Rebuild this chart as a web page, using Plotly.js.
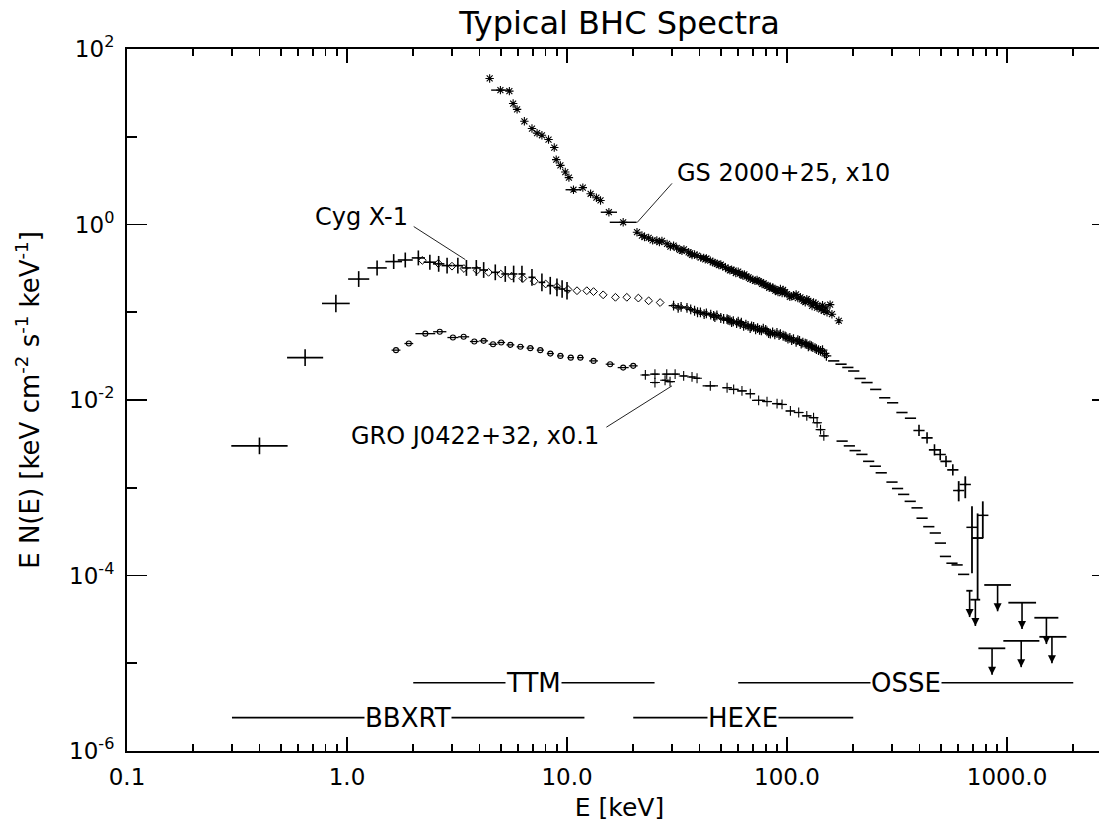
<!DOCTYPE html>
<html>
<head>
<meta charset="utf-8">
<script src="https://cdn.plot.ly/plotly-3.0.1.min.js"></script>
<style>html,body{margin:0;padding:0;overflow:hidden;background:#fff}</style>
</head>
<body>
<div id="chart" style="width:1120px;height:823px"></div>
<script>
// ---------------- DATA ----------------
// Cyg X-1 : BBXRT (large crosses)
const cygBbxrtE  = [0.40, 0.645, 0.89, 1.13, 1.37, 1.63, 1.84, 2.11, 2.38, 2.61, 2.85, 3.19, 3.49, 3.87, 4.18, 4.72, 5.24, 5.72, 6.24, 6.93, 7.69, 8.39, 9.0, 9.5, 10.0];
const cygBbxrtF  = [0.0030, 0.0304, 0.126, 0.239, 0.32, 0.378, 0.394, 0.416, 0.372, 0.356, 0.34, 0.34, 0.32, 0.32, 0.303, 0.285, 0.273, 0.273, 0.273, 0.25, 0.219, 0.201, 0.192, 0.184, 0.176];
const cygBbxrtXd = [0.128, 0.082, 0.063, 0.048, 0.044, 0.038, 0.034, 0.030, 0.028, 0.026, 0.025, 0.023, 0.022, 0.021, 0.020, 0.019, 0.018, 0.017, 0.016, 0.016, 0.015, 0.015, 0.014, 0.014, 0.013];
const cygBbxrtYd = [0.095, 0.095, 0.10, 0.09, 0.085, 0.085, 0.085, 0.085, 0.085, 0.09, 0.09, 0.09, 0.09, 0.09, 0.09, 0.09, 0.09, 0.095, 0.095, 0.095, 0.10, 0.10, 0.10, 0.10, 0.10];
// Cyg X-1 : TTM (diamonds)
const cygTtmE = [2.2, 2.6, 3.0, 3.4, 3.9, 4.4, 5.0, 5.6, 6.3, 7.1, 8.0, 9.0, 10.1, 11.1, 12.3, 13.2, 14.6, 16.6, 18.7, 21.1, 23.5, 26.5];
const cygTtmF = [0.39, 0.36, 0.335, 0.315, 0.30, 0.285, 0.272, 0.258, 0.242, 0.226, 0.21, 0.196, 0.182, 0.176, 0.176, 0.172, 0.158, 0.148, 0.148, 0.145, 0.135, 0.129];
// Cyg X-1 : HEXE
const cygHexeE = [30.5, 33, 35.1, 38, 40.4, 43, 46.4, 48, 50, 53.4, 55, 57, 61.3, 62, 65, 68, 70.5, 75, 78, 81.1, 84, 86, 90, 93.3, 96, 99, 103, 107, 110, 114, 118, 123, 127, 131, 136, 142, 145, 151,
                  32, 36.5, 39.2, 42, 45, 47, 51.5, 54, 56, 59, 60, 63.5, 66.5, 69, 72, 73.5, 76.5, 80, 82.5, 88, 92, 98, 101, 105, 112, 116, 121, 125, 129, 134, 139, 148];
const cygHexeF = [0.119, 0.115, 0.112, 0.104, 0.0995, 0.097, 0.091, 0.092, 0.086, 0.0835, 0.081, 0.079, 0.0732, 0.076, 0.072, 0.066, 0.0683, 0.063, 0.065, 0.0604, 0.057, 0.059, 0.058, 0.0563, 0.054, 0.052, 0.051, 0.0494, 0.046, 0.047, 0.045, 0.0433, 0.042, 0.040, 0.038, 0.0363, 0.037, 0.0318,
                  0.112, 0.108, 0.100, 0.095, 0.094, 0.088, 0.084, 0.082, 0.077, 0.075, 0.078, 0.070, 0.070, 0.069, 0.064, 0.066, 0.062, 0.063, 0.058, 0.056, 0.055, 0.053, 0.050, 0.048, 0.048, 0.044, 0.044, 0.041, 0.041, 0.039, 0.037, 0.034];
// Cyg X-1 : OSSE
const cygOsseE = [163, 176, 189, 201, 215, 231, 253, 278, 302, 333, 364, 398, 433, 468, 497, 528, 567];
const cygOsseF = [0.0279, 0.0256, 0.0235, 0.0214, 0.0176, 0.0158, 0.0132, 0.0106, 0.0093, 0.0072, 0.0062, 0.0045, 0.0037, 0.0027, 0.00239, 0.0020, 0.0016];
// Cyg X-1 : OSSE points with large errors
const cygBigE   = [603, 646, 693, 735, 776];
const cygBigF   = [0.00093, 0.00109, 3.54e-4, 2.67e-4, 4.85e-4];
const cygBigFhi = [0.00119, 0.00135, 6.15e-4, 5.1e-4, 7.0e-4];
const cygBigFlo = [0.00070, 0.00076, 1.06e-4, 5.3e-5, 2.67e-4];
const cygBigXd  = [0.006, 0.006, 0.004, 0.025, 0.004];

// GS 2000+25 (x10)
const gsTtmE  = [4.45, 4.98, 5.47, 5.69, 5.93, 6.40, 6.93, 7.31, 7.69, 8.24, 8.75, 8.93, 9.33, 9.82, 10.2, 10.7, 11.8, 12.8, 13.6, 14.2, 15.5, 18.0];
const gsTtmF  = [46.2, 34.0, 33.1, 23.9, 20.5, 15.0, 12.4, 11.0, 10.4, 9.29, 7.53, 5.49, 4.72, 3.96, 3.42, 2.49, 2.63, 2.24, 2.02, 1.88, 1.38, 1.06];
const gsTtmXd = [0, 0.042, 0, 0, 0, 0, 0, 0, 0, 0, 0, 0, 0, 0, 0, 0.036, 0, 0, 0, 0, 0.037, 0.061];
const gsHexeE = [20.8, 21.9, 23.5, 24.5, 25.6, 27.0, 28.5, 29.5, 30.5, 32.7, 34.0, 35.7, 37.0, 39.0, 41.8, 43.0, 44.8, 46.0, 48.1, 50.0, 52.5, 55.0, 57.2, 60.0, 62.4, 64.0, 66.9, 70.0, 73.1, 76.0, 78.3, 81.0, 84.0, 86.0, 88.5, 91.0, 93.3, 96.0, 100, 103, 107, 110, 115, 119, 123, 127, 132, 137, 140, 145, 147, 152, 157, 172,
                 22.5, 26.3, 31.5, 33.3, 36.3, 38.0, 40.5, 42.5, 47.0, 49.0, 51.0, 54.0, 56.0, 58.5, 61.0, 63.0, 65.5, 68.0, 71.5, 74.5, 77.0, 80.0, 83.0, 87.0, 90.0, 95.0, 98.0, 105, 112, 117, 121, 125, 130, 135, 143, 150, 160];
const gsHexeF = [0.817, 0.748, 0.704, 0.66, 0.656, 0.65, 0.601, 0.56, 0.575, 0.514, 0.52, 0.482, 0.45, 0.442, 0.416, 0.41, 0.388, 0.37, 0.356, 0.35, 0.325, 0.30, 0.298, 0.29, 0.268, 0.27, 0.25, 0.235, 0.233, 0.22, 0.213, 0.20, 0.196, 0.19, 0.176, 0.17, 0.184, 0.18, 0.161, 0.15, 0.155, 0.16, 0.148, 0.135, 0.141, 0.13, 0.129, 0.113, 0.115, 0.12, 0.104, 0.10, 0.122, 0.080,
                 0.72, 0.63, 0.54, 0.50, 0.47, 0.455, 0.42, 0.40, 0.365, 0.345, 0.335, 0.31, 0.305, 0.28, 0.275, 0.262, 0.255, 0.24, 0.228, 0.225, 0.21, 0.205, 0.19, 0.185, 0.178, 0.165, 0.17, 0.152, 0.145, 0.14, 0.13, 0.135, 0.118, 0.125, 0.108, 0.112, 0.095];

// GRO J0422+32 (x0.1)
const groTtmE  = [1.67, 1.91, 2.27, 2.64, 3.03, 3.39, 3.79, 4.18, 4.61, 5.02, 5.53, 6.14, 6.81, 7.56, 8.4, 9.33, 10.4, 11.5, 13.2, 15.7, 18.0, 20.0];
const groTtmF  = [0.037, 0.044, 0.057, 0.060, 0.0515, 0.0525, 0.0464, 0.0472, 0.0432, 0.0452, 0.0425, 0.0404, 0.039, 0.037, 0.0338, 0.0318, 0.0304, 0.0304, 0.0279, 0.0256, 0.0234, 0.0245];
const groTtmXd = [0.02, 0.02, 0.045, 0.03, 0.025, 0.025, 0.02, 0.02, 0.02, 0.018, 0.018, 0.017, 0.017, 0.016, 0.016, 0.015, 0.015, 0.015, 0.02, 0.02, 0.025, 0.02];
const groHexeE  = [22.7, 25.1, 25.1, 27.9, 28.4, 29.4, 31.0, 33.9, 37.0, 39.0, 44.8, 53.4, 57.2, 62.4, 68.1, 74.3, 81.1, 90.1, 94.9, 103.6, 113, 123, 132, 137, 142, 147];
const groHexeF  = [0.0193, 0.0197, 0.0158, 0.0168, 0.0197, 0.0162, 0.0197, 0.0188, 0.0183, 0.0177, 0.0145, 0.0138, 0.0132, 0.0127, 0.0118, 0.0099, 0.0096, 0.0091, 0.0089, 0.0075, 0.0072, 0.0066, 0.0063, 0.0055, 0.0046, 0.0039];
const groHexeXd = [0.015, 0.016, 0.014, 0.015, 0.016, 0.014, 0.015, 0.016, 0.015, 0.014, 0.035, 0.02, 0.022, 0.02, 0.021, 0.03, 0.02, 0.022, 0.02, 0.021, 0.02, 0.019, 0.016, 0.015, 0.014, 0.015];
const groOsseE = [178, 192, 204, 219, 235, 252, 268, 300, 318, 339, 363, 390, 411, 441, 472, 498, 525, 562, 593, 635];
const groOsseF = [0.0034, 0.0030, 0.00265, 0.0024, 0.0020, 0.00176, 0.00148, 0.00116, 0.00098, 0.00084, 0.0007, 0.00059, 0.00045, 0.00036, 0.000305, 0.000234, 0.000165, 0.000138, 0.000132, 0.000103];

// Upper limits (OSSE): top of each limit and its energy bin
const ulE   = [676, 718, 906, 1170, 1510, 855, 1160, 1600];
const ulF   = [6.7e-5, 5.3e-5, 7.8e-5, 4.9e-5, 3.3e-5, 1.48e-5, 1.8e-5, 2.0e-5];
const ulElo = [653, 681, 788, 1014, 1331, 741, 962, 1403];
const ulEhi = [697, 755, 1042, 1355, 1711, 982, 1403, 1862];

// Instrument energy ranges
const instName = ['BBXRT', 'TTM', 'HEXE', 'OSSE'];
const instLo   = [0.3, 2, 20, 60];
const instHi   = [12, 25, 200, 2000];
const instF    = [2.4e-6, 6e-6, 2.4e-6, 6e-6];

// Source labels and pointer lines
const srcLabel = ['GS 2000+25, x10', 'Cyg X-1', 'GRO J0422+32, x0.1'];
const ptrE0 = [20.8, 2.01, 15.1];
const ptrF0 = [1.05, 0.948, 0.0049];
const ptrE1 = [30.0, 3.45, 30.0];
const ptrF1 = [2.94, 0.398, 0.0145];

// Axis ticks
const xTickVals = [0.1, 1, 10, 100, 1000];
const xTickText = ['0.1', '1.0', '10.0', '100.0', '1000.0'];
const yTickVals = [1e-6, 1e-4, 1e-2, 1, 100];
const yTickText = ['10<sup>-6</sup>', '10<sup>-4</sup>', '10<sup>-2</sup>', '10<sup>0</sup>', '10<sup>2</sup>'];
const yMinorVals = [1e-5, 1e-3, 1e-1, 10];

// ---------------- BUILD ----------------
const K = '#000';
const FONT = 'DejaVu Sans, Arial, sans-serif';
const UL_DEX = 0.3; // length of upper-limit arrows (decades)
function dex(v, d) {
  return {
    array: v.map((e, i) => e * (Math.pow(10, d[i]) - 1)),
    arrayminus: v.map((e, i) => e * (1 - Math.pow(10, -d[i])))
  };
}
function ebar(o, th) {
  return {type: 'data', symmetric: false, array: o.array, arrayminus: o.arrayminus, color: K, thickness: th, width: 0};
}
const xMinor = [];
for (let d = -1; d <= 3; d++) for (let k = 2; k <= 9; k++) { const v = k * Math.pow(10, d); if (v < 3000) xMinor.push(v); }

const traces = [];
// instrument ranges
const ix = [], iy = [];
instName.forEach((n, i) => { ix.push(instLo[i], instHi[i], null); iy.push(instF[i], instF[i], null); });
traces.push({x: ix, y: iy, mode: 'lines', line: {color: K, width: 1.6}, connectgaps: false});
// pointer lines
const px = [], py = [];
srcLabel.forEach((s, i) => { px.push(ptrE0[i], ptrE1[i], null); py.push(ptrF0[i], ptrF1[i], null); });
traces.push({x: px, y: py, mode: 'lines', line: {color: '#222', width: 1}, connectgaps: false});

// Cyg X-1 BBXRT crosses
traces.push({x: cygBbxrtE, y: cygBbxrtF, mode: 'markers', marker: {size: 2, color: K},
  error_x: ebar(dex(cygBbxrtE, cygBbxrtXd), 1.6), error_y: ebar(dex(cygBbxrtF, cygBbxrtYd), 1.6)});
// Cyg X-1 TTM
traces.push({x: cygTtmE, y: cygTtmF, mode: 'markers', marker: {symbol: 'diamond-open', size: 6, color: K, line: {width: 1, color: K}}});
// Cyg X-1 HEXE
traces.push({x: cygHexeE, y: cygHexeF, mode: 'markers', marker: {symbol: 'cross-thin-open', size: 7, color: K, line: {width: 1.2, color: K}}});
traces.push({x: cygHexeE, y: cygHexeF, mode: 'markers', marker: {symbol: 'diamond-open', size: 4, color: K, line: {width: 1, color: K}}});
// Cyg X-1 OSSE
traces.push({x: cygOsseE, y: cygOsseF, mode: 'markers',
  marker: {symbol: cygOsseE.map(e => e >= 390 ? 'cross-thin-open' : 'line-ew'), size: 8, color: K, line: {width: 1.6, color: K}}});
traces.push({x: cygBigE, y: cygBigF, mode: 'markers', marker: {symbol: 'line-ew', size: 8, color: K, line: {width: 1.5, color: K}},
  error_x: ebar(dex(cygBigE, cygBigXd), 1.6),
  error_y: {type: 'data', symmetric: false, array: cygBigF.map((f, i) => cygBigFhi[i] - f), arrayminus: cygBigF.map((f, i) => f - cygBigFlo[i]), color: K, thickness: 1.8, width: 0}});

// GS 2000+25
traces.push({x: gsTtmE, y: gsTtmF, mode: 'markers', marker: {symbol: 'asterisk-open', size: 7, color: K, line: {width: 1.1, color: K}},
  error_x: ebar(dex(gsTtmE, gsTtmXd), 1.4)});
traces.push({x: gsHexeE, y: gsHexeF, mode: 'markers', marker: {symbol: 'asterisk-open', size: 7, color: K, line: {width: 1.1, color: K}}});

// GRO J0422+32
traces.push({x: groTtmE, y: groTtmF, mode: 'markers', marker: {symbol: 'circle-open', size: 5, color: K, line: {width: 1.1, color: K}},
  error_x: ebar(dex(groTtmE, groTtmXd), 1.3)});
traces.push({x: groHexeE, y: groHexeF, mode: 'markers', marker: {symbol: 'cross-thin-open', size: 7, color: K, line: {width: 1.1, color: K}},
  error_x: ebar(dex(groHexeE, groHexeXd), 1.3)});
traces.push({x: groOsseE, y: groOsseF, mode: 'markers', marker: {symbol: 'line-ew', size: 8, color: K, line: {width: 1.6, color: K}}});

// Upper limits: bin bar at the top, shaft and arrowhead below
const ulTip = ulF.map(f => f * Math.pow(10, -UL_DEX));
traces.push({x: ulE, y: ulF, mode: 'markers', marker: {size: 1, color: 'rgba(0,0,0,0)'},
  error_x: {type: 'data', symmetric: false, array: ulE.map((e, i) => ulEhi[i] - e), arrayminus: ulE.map((e, i) => e - ulElo[i]), color: K, thickness: 1.8, width: 0}});
traces.push({x: ulE, y: ulTip, mode: 'markers', marker: {symbol: 'arrow-down', size: 8, color: K, line: {width: 0}},
  error_y: {type: 'data', symmetric: false, array: ulTip.map((t, i) => ulF[i] - t), arrayminus: ulTip.map(() => 0), color: K, thickness: 1.6, width: 0}});

const L = Math.log10;
const annotations = [];
// instrument labels
instName.forEach((n, i) => {
  annotations.push({x: L(Math.sqrt(instLo[i] * instHi[i])), y: L(instF[i]), xref: 'x', yref: 'y', text: n, showarrow: false,
    bgcolor: '#fff', borderpad: 0, font: {family: FONT, size: 26, color: K}, xanchor: 'center', yanchor: 'middle'});
});
// source labels
annotations.push({x: L(ptrE1[0]), y: L(ptrF1[0]), xref: 'x', yref: 'y', text: srcLabel[0], showarrow: false,
  xanchor: 'left', yanchor: 'middle', xshift: 3, yshift: 10, font: {family: FONT, size: 24, color: K}});
annotations.push({x: L(ptrE0[1]), y: L(ptrF0[1]), xref: 'x', yref: 'y', text: srcLabel[1], showarrow: false,
  xanchor: 'right', yanchor: 'middle', xshift: -4, yshift: 10, font: {family: FONT, size: 24, color: K}});
annotations.push({x: L(ptrE0[2]), y: L(ptrF0[2]), xref: 'x', yref: 'y', text: srcLabel[2], showarrow: false,
  xanchor: 'right', yanchor: 'middle', xshift: -5, yshift: -9, font: {family: FONT, size: 24, color: K}});

const axisCommon = {
  type: 'log', showline: true, linewidth: 2, linecolor: K, mirror: 'ticks', showgrid: false, zeroline: false,
  ticks: 'inside', tickcolor: K, tickwidth: 1.6, tickmode: 'array', automargin: false,
  tickfont: {family: FONT, size: 23, color: K}
};

const layout = {
  width: 1120, height: 823,
  margin: {l: 127, r: 8, t: 49, b: 72, pad: 0},
  paper_bgcolor: '#fff', plot_bgcolor: '#fff',
  showlegend: false, hovermode: false,
  font: {family: FONT, color: K},
  title: {text: 'Typical BHC Spectra', font: {family: FONT, size: 32, color: K},
    x: 0.5, xref: 'paper', xanchor: 'center', y: 1 - 23 / 823, yref: 'container', yanchor: 'middle'},
  xaxis: Object.assign({}, axisCommon, {
    range: [-1, L(3000)], tickvals: xTickVals, ticktext: xTickText, ticklen: 14, ticklabelstandoff: 4,
    minor: {tickmode: 'array', tickvals: xMinor, ticks: 'inside', ticklen: 7, tickwidth: 1.6, tickcolor: K, showgrid: false},
    title: {text: 'E [keV]', font: {family: FONT, size: 25, color: K}, standoff: 10}
  }),
  yaxis: Object.assign({}, axisCommon, {
    range: [-6, 2], tickvals: yTickVals, ticktext: yTickText, ticklen: 20, ticklabelstandoff: 6,
    minor: {tickmode: 'array', tickvals: yMinorVals, ticks: 'inside', ticklen: 10, tickwidth: 1.6, tickcolor: K, showgrid: false},
    title: {text: 'E N(E) [keV cm<sup>-2</sup> s<sup>-1</sup> keV<sup>-1</sup>]', font: {family: FONT, size: 26, color: K}, standoff: 22}
  }),
  annotations: annotations
};

Plotly.newPlot('chart', traces, layout, {displayModeBar: false, staticPlot: true});
</script>
</body>
</html>
